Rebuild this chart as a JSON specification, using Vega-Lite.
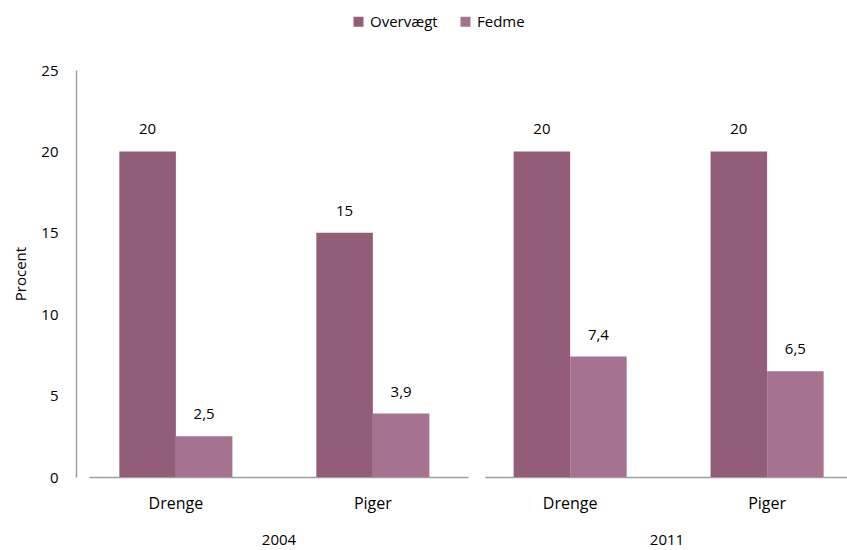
{
  "$schema": "https://vega.github.io/schema/vega-lite/v6.json",
  "autosize": {"type": "pad"},
  "padding": {"left": 13, "top": 14, "right": 0, "bottom": 0},
  "background": "white",
  "data": {
    "values": [
      {"aar": "2004", "koen": "Drenge", "maal": "Overvægt", "pct": 20},
      {"aar": "2004", "koen": "Drenge", "maal": "Fedme", "pct": 2.5},
      {"aar": "2004", "koen": "Piger", "maal": "Overvægt", "pct": 15},
      {"aar": "2004", "koen": "Piger", "maal": "Fedme", "pct": 3.9},
      {"aar": "2011", "koen": "Drenge", "maal": "Overvægt", "pct": 20},
      {"aar": "2011", "koen": "Drenge", "maal": "Fedme", "pct": 7.4},
      {"aar": "2011", "koen": "Piger", "maal": "Overvægt", "pct": 20},
      {"aar": "2011", "koen": "Piger", "maal": "Fedme", "pct": 6.5}
    ]
  },
  "spacing": 17,
  "hconcat": [
    {
      "width": 379,
      "height": 407,
      "transform": [{"filter": {"field": "aar", "equal": "2004"}}],
      "encoding": {
        "x": {
          "field": "koen", "type": "nominal", "sort": ["Drenge", "Piger"],
          "scale": {"paddingInner": 0.426, "paddingOuter": 0.175, "align": 0.44},
          "axis": {"title": "2004"}
        },
        "xOffset": {
          "field": "maal", "type": "nominal", "sort": ["Overvægt", "Fedme"],
          "scale": {"paddingInner": 0, "paddingOuter": 0}
        },
        "y": {
          "field": "pct", "type": "quantitative",
          "scale": {"domain": [0, 25]},
          "axis": {
            "title": "Procent", "values": [0, 5, 10, 15, 20, 25],
            "offset": 13, "ticks": false, "grid": false,
            "labelPadding": 18, "titlePadding": 12
          }
        }
      },
      "layer": [
        {
          "mark": {"type": "bar"},
          "encoding": {
            "color": {
              "field": "maal", "type": "nominal",
              "sort": ["Overvægt", "Fedme"],
              "scale": {"domain": ["Overvægt", "Fedme"], "range": ["#935d7a", "#a5728f"]},
              "legend": {"title": null}
            }
          }
        },
        {
          "mark": {"type": "text", "dy": -17, "baseline": "alphabetic", "fontSize": 15, "font": "Open Sans", "color": "#000000"},
          "encoding": {"text": {"field": "pct", "type": "quantitative", "format": "~g"}}
        }
      ]
    },
    {
      "width": 363,
      "height": 407,
      "transform": [{"filter": {"field": "aar", "equal": "2011"}}],
      "encoding": {
        "x": {
          "field": "koen", "type": "nominal", "sort": ["Drenge", "Piger"],
          "scale": {"paddingInner": 0.426, "paddingOuter": 0.1345, "align": 0.54},
          "axis": {"title": "2011"}
        },
        "xOffset": {
          "field": "maal", "type": "nominal", "sort": ["Overvægt", "Fedme"],
          "scale": {"paddingInner": 0, "paddingOuter": 0}
        },
        "y": {
          "field": "pct", "type": "quantitative",
          "scale": {"domain": [0, 25]},
          "axis": null
        }
      },
      "layer": [
        {
          "mark": {"type": "bar"},
          "encoding": {
            "color": {
              "field": "maal", "type": "nominal",
              "sort": ["Overvægt", "Fedme"],
              "scale": {"domain": ["Overvægt", "Fedme"], "range": ["#935d7a", "#a5728f"]},
              "legend": {"title": null}
            }
          }
        },
        {
          "mark": {"type": "text", "dy": -17, "baseline": "alphabetic", "fontSize": 15, "font": "Open Sans", "color": "#000000"},
          "encoding": {"text": {"field": "pct", "type": "quantitative", "format": "~g"}}
        }
      ]
    }
  ],
  "resolve": {"scale": {"color": "shared", "y": "shared"}, "legend": {"color": "shared"}},
  "config": {
    "locale": {
      "number": {"decimal": ",", "thousands": ".", "grouping": [3], "currency": ["", " kr."]}
    },
    "view": {"stroke": null},
    "font": "Open Sans",
    "axis": {
      "labelFont": "Open Sans", "labelFontSize": 15, "labelColor": "#000000",
      "titleFont": "Open Sans", "titleFontSize": 15, "titleFontWeight": "normal", "titleColor": "#000000",
      "domainColor": "#9e9e9e", "domainWidth": 1.5
    },
    "axisX": {
      "labelAngle": 0, "ticks": false, "labelFontSize": 16, "labelPadding": 18, "titlePadding": 21
    },
    "legend": {
      "orient": "none", "legendX": 262, "legendY": -56,
      "direction": "horizontal",
      "symbolType": "square", "symbolSize": 100, "symbolStrokeWidth": 0,
      "labelFont": "Open Sans", "labelFontSize": 15, "labelColor": "#000000",
      "labelOffset": 4, "columnPadding": 20
    }
  }
}
